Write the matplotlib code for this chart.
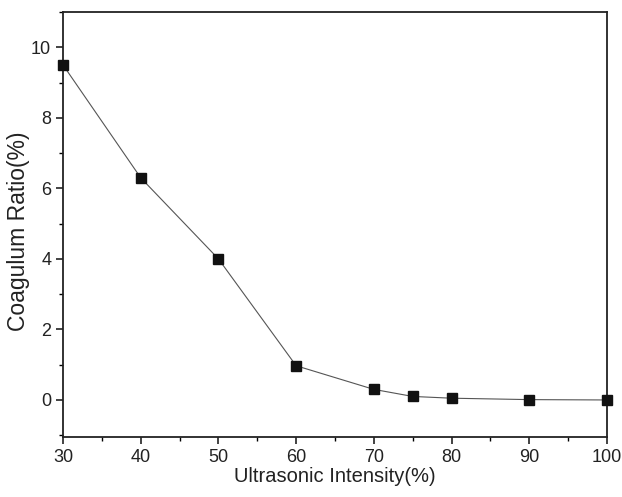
import matplotlib
matplotlib.use('Agg')
import matplotlib.pyplot as plt
from matplotlib.ticker import MultipleLocator

# Data
intensity = [30, 40, 50, 60, 70, 75, 80, 90, 100]
coagulum_ratio = [9.5, 6.3, 4.0, 0.97, 0.3, 0.1, 0.05, 0.01, 0.0]

plt.rcParams['font.family'] = ['Liberation Sans', 'DejaVu Sans']

fig = plt.figure(figsize=(6.22, 4.97), dpi=100)
ax = fig.add_axes([63 / 622, 60 / 497, 544 / 622, 425 / 497])

ax.plot(intensity, coagulum_ratio, color='#555555', linewidth=0.8,
        marker='s', markersize=7, markerfacecolor='#111111',
        markeredgecolor='#111111', clip_on=False, zorder=3)

ax.set_xlim(30, 100)
ax.set_ylim(-1.05, 11)
ax.xaxis.set_major_locator(MultipleLocator(10))
ax.xaxis.set_minor_locator(MultipleLocator(5))
ax.yaxis.set_major_locator(MultipleLocator(2))
ax.yaxis.set_minor_locator(MultipleLocator(1))
ax.tick_params(which='major', direction='out', length=5, width=1.2,
               labelsize=13, colors='#222222')
ax.tick_params(which='minor', direction='out', length=3, width=1.0)
for s in ax.spines.values():
    s.set_linewidth(1.3)
    s.set_color('#222222')

ax.set_xlabel('Ultrasonic Intensity(%)', fontsize=14.5, color='#222222', labelpad=1)
ax.set_ylabel('Coagulum Ratio(%)', fontsize=16.5, color='#222222')
ax.yaxis.set_label_coords(-0.06, 0.485)

fig.savefig('out.png', dpi=100)
